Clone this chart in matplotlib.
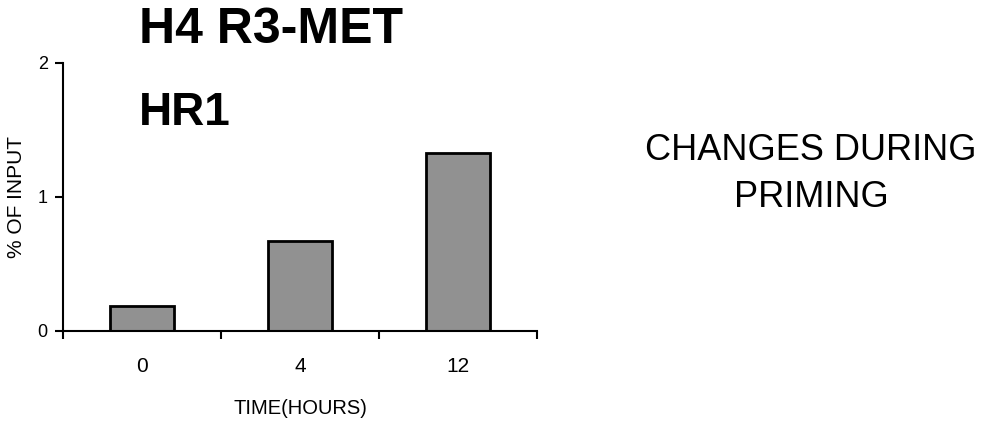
import matplotlib
matplotlib.use("Agg")
import matplotlib.pyplot as plt

hours = ["0", "4", "12"]
pct_input = [0.19, 0.67, 1.33]

plt.rcParams['font.family'] = ['Liberation Sans', 'DejaVu Sans']

fig = plt.figure(figsize=(10.05, 4.32), dpi=100)
ax = fig.add_axes([0.0627, 0.2338, 0.4716, 0.6204])

x = list(range(len(hours)))
ax.bar(x, pct_input, width=0.4, color="#919191", edgecolor="black", linewidth=2)

ax.set_xlim(-0.5, len(hours) - 0.5)
ax.set_ylim(0, 2)
ax.set_yticks([0, 1, 2])
ax.set_xticks(x)
ax.set_xticklabels(hours, fontsize=15)
ax.set_xticks([-0.5, 0.5, 1.5, 2.5], minor=True)
ax.tick_params(axis="x", which="major", length=0, pad=19)
ax.tick_params(axis="x", which="minor", length=6, width=1.5, direction="out")
ax.tick_params(axis="y", length=6, width=1.5, direction="out", labelsize=13, pad=5)

for s in ["top", "right"]:
    ax.spines[s].set_visible(False)
for s in ["left", "bottom"]:
    ax.spines[s].set_linewidth(1.5)

ax.set_ylabel("% OF INPUT", fontsize=15, labelpad=8)
ax.set_xlabel("TIME(HOURS)", fontsize=14.5, labelpad=16)

fig.text(0.1383, 1 - 43 / 432, "H4 R3-MET", fontsize=36, fontweight="bold", ha="left", va="baseline")
fig.text(0.1383, 1 - 125 / 432, "HR1", fontsize=33, fontweight="bold", ha="left", va="baseline")
fig.text(0.807, 1 - 160 / 432, "CHANGES DURING", fontsize=26, ha="center", va="baseline")
fig.text(0.807, 1 - 207 / 432, "PRIMING", fontsize=26, ha="center", va="baseline")

fig.savefig("out.png", dpi=100)
plt.close(fig)
